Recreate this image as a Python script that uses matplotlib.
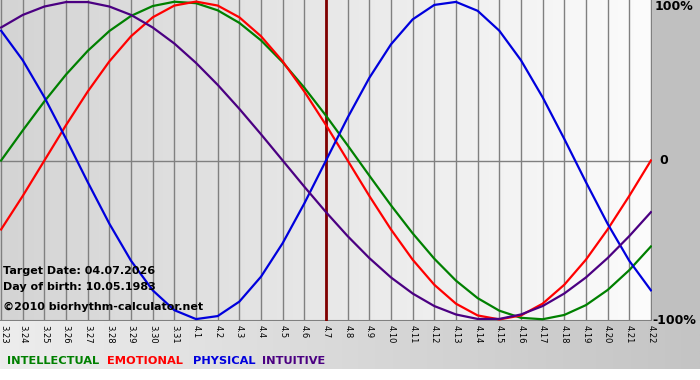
import matplotlib.pyplot as plt
import numpy as np
from matplotlib.colors import LinearSegmentedColormap
from matplotlib.transforms import ScaledTranslation

# days shown (index 15 = target date 4.7)
days = ['3.23', '3.24', '3.25', '3.26', '3.27', '3.28', '3.29', '3.30', '3.31',
        '4.1', '4.2', '4.3', '4.4', '4.5', '4.6', '4.7', '4.8', '4.9', '4.10',
        '4.11', '4.12', '4.13', '4.14', '4.15', '4.16', '4.17', '4.18', '4.19',
        '4.20', '4.21', '4.22']
target_idx = 15

intellectual = [0.0, 0.189, 0.372, 0.541, 0.690, 0.815, 0.910, 0.972, 0.999, 0.990,
                0.945, 0.866, 0.756, 0.618, 0.458, 0.282, 0.095, -0.095, -0.282, -0.458,
                -0.618, -0.756, -0.866, -0.945, -0.990, -0.999, -0.972, -0.910, -0.815,
                -0.690, -0.541]
emotional = [-0.434, -0.223, 0.0, 0.223, 0.434, 0.624, 0.782, 0.901, 0.975, 1.0,
             0.975, 0.901, 0.782, 0.624, 0.434, 0.223, 0.0, -0.223, -0.434, -0.624,
             -0.782, -0.901, -0.975, -1.0, -0.975, -0.901, -0.782, -0.624, -0.434,
             -0.223, 0.0]
physical = [0.817, 0.631, 0.398, 0.136, -0.136, -0.398, -0.631, -0.817, -0.942, -0.998,
            -0.979, -0.888, -0.731, -0.520, -0.270, 0.0, 0.270, 0.520, 0.731, 0.888,
            0.979, 0.998, 0.942, 0.817, 0.631, 0.398, 0.136, -0.136, -0.398, -0.631,
            -0.817]
intuitive = [0.837, 0.916, 0.969, 0.997, 0.997, 0.969, 0.916, 0.837, 0.736, 0.614,
             0.476, 0.325, 0.165, 0.0, -0.165, -0.325, -0.476, -0.614, -0.736, -0.837,
             -0.916, -0.969, -0.997, -0.997, -0.969, -0.916, -0.837, -0.736, -0.614,
             -0.476, -0.325]

series = [('INTELLECTUAL', intellectual, '#008000'),
          ('EMOTIONAL', emotional, '#ff0000'),
          ('PHYSICAL', physical, '#0000dd'),
          ('INTUITIVE', intuitive, '#4b0082')]

W, H = 700, 380
fig = plt.figure(figsize=(W / 100, H / 100), dpi=100)
fig.patch.set_facecolor('white')

# background: bottom gradient strip + grey right margin
bg = fig.add_axes([0, 0, 1, 1])
bg.set_xlim(0, W)
bg.set_ylim(H, 0)
bg.axis('off')
bottom_cmap = LinearSegmentedColormap.from_list('b', ['#ededed', '#c4c4c4'])
bg.imshow(np.linspace(0, 1, 256)[None, :], cmap=bottom_cmap, aspect='auto',
          extent=(0, W, 369, 321))
bg.add_patch(plt.Rectangle((651, 0), W - 651, 321, color='#c0c0c0', lw=0))

ax = fig.add_axes([0, (H - 321) / H, 652 / W, 321 / H])
x = np.arange(len(days))
ax.set_xlim(-0.05, 30.05)
ax.set_ylim(-1.01, 1.01)

plot_cmap = LinearSegmentedColormap.from_list('p', ['#d4d4d4', '#fcfcfc'])
ax.imshow(np.linspace(0, 1, 256)[None, :], cmap=plot_cmap, aspect='auto',
          extent=(-0.05, 30.05, -1.01, 1.01), zorder=0)

for i in x:
    ax.axvline(i, color='#808080', lw=1, zorder=1)
ax.axhline(0, color='#808080', lw=1, zorder=1)
ax.axhline(-1.01, color='#808080', lw=1.5, zorder=1)
ax.axvline(target_idx, color='#800000', lw=2, zorder=2)

for name, vals, col in series:
    ax.plot(x, vals, color=col, lw=1.6, zorder=3, solid_joinstyle='round')

for s in ax.spines.values():
    s.set_visible(False)
ax.set_yticks([])
ax.set_xticks(x)
ax.set_xticklabels(days, rotation=270, fontsize=6)
ax.tick_params(axis='x', length=0, pad=3)
# keep the first label inside the figure
first = ax.get_xticklabels()[0]
first.set_transform(first.get_transform() + ScaledTranslation(3 / 100, 0, fig.dpi_scale_trans))

# right-side percent labels
fig.text(655 / W, 1 - 7 / H, '100%', fontsize=9, fontweight='bold', va='center', ha='left')
fig.text(659 / W, 1 - 161 / H, '0', fontsize=9, fontweight='bold', va='center', ha='left')
fig.text(652 / W, 1 - 321 / H, '-100%', fontsize=9, fontweight='bold', va='center', ha='left')

# info text
fig.text(3 / W, 1 - 271 / H, 'Target Date: 04.07.2026', fontsize=8, fontweight='bold', va='center')
fig.text(3 / W, 1 - 287 / H, 'Day of birth: 10.05.1983', fontsize=8, fontweight='bold', va='center')
fig.text(3 / W, 1 - 307 / H, '\u00a92010 biorhythm-calculator.net', fontsize=8, fontweight='bold', va='center')

# legend words
xpos = [7, 107, 193, 262]
for (name, vals, col), xp in zip(series, xpos):
    fig.text(xp / W, 1 - 361 / H, name, color=col, fontsize=8.2, fontweight='bold', va='center')

fig.savefig('out.png', dpi=100)
